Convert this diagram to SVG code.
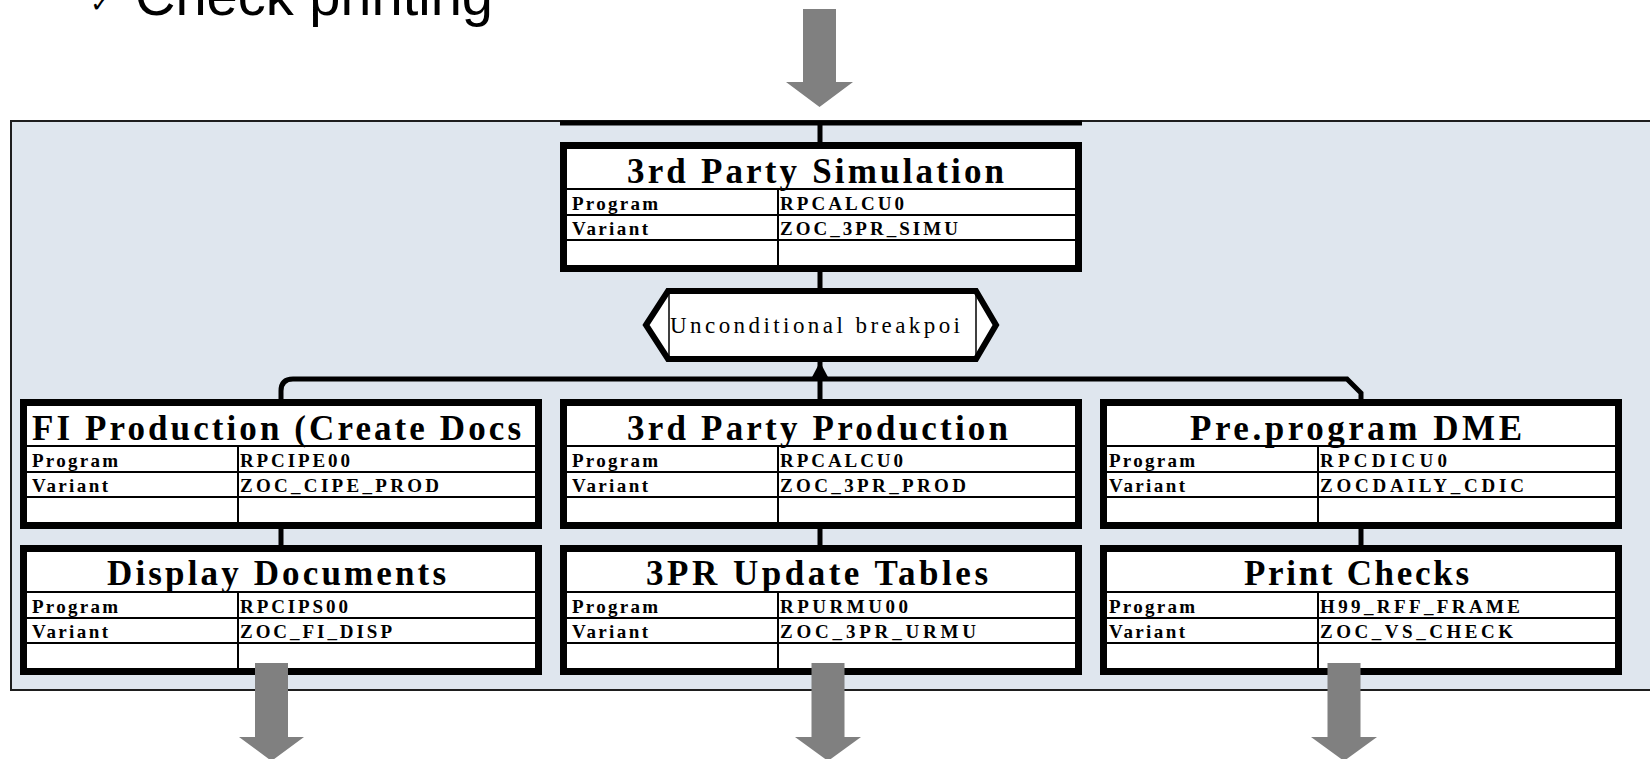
<svg xmlns="http://www.w3.org/2000/svg" width="1650" height="759" viewBox="0 0 1650 759">
<style>
.panel{fill:#dfe6ee;stroke:#1e1e1e;stroke-width:2}
.frame{fill:#fff;stroke:#000;stroke-width:7}
.ln{stroke:#000;stroke-width:2;fill:none}
.ttl{font-family:"Liberation Serif",serif;font-weight:bold;font-size:35px;fill:#000}
.cell{font-family:"Liberation Serif",serif;font-weight:bold;font-size:19px;fill:#000}
.hx{font-family:"Liberation Serif",serif;font-size:23px;fill:#000}
.conn{stroke:#000;stroke-width:5;fill:none}
.garrow{fill:#808080}
.head{font-family:"Liberation Sans",Arial,sans-serif;font-size:56px;fill:#000}
</style>
<defs>
<g id="grid">
<rect class="frame" x="3.5" y="3.5" width="515" height="123"/>
<line class="ln" x1="7" y1="47" x2="515" y2="47"/>
<line class="ln" x1="7" y1="73" x2="515" y2="73"/>
<line class="ln" x1="7" y1="98" x2="515" y2="98"/>
<line class="ln" x1="218" y1="47" x2="218" y2="123"/>
</g>
</defs>
<text class="head" x="90" y="12" style="font-family:'DejaVu Sans',sans-serif;font-size:26px">✓</text>
<text class="head" x="135" y="15">Check printing</text>
<rect class="panel" x="11" y="121" width="1660" height="569"/>
<g id="connectors">
<line class="conn" x1="560" y1="123" x2="1082" y2="123"/>
<line class="conn" x1="820" y1="123" x2="820" y2="142"/>
<line class="conn" x1="820" y1="272" x2="820" y2="291"/>
<line class="conn" x1="820" y1="360" x2="820" y2="399"/>
<polygon points="820,362 811,379 829,379" fill="#000"/>
<path class="conn" d="M281,399 L281,391 Q281,379 293,379 L1347,379 L1361,393 L1361,399"/>
<line class="conn" x1="281" y1="528" x2="281" y2="545"/>
<line class="conn" x1="820" y1="528" x2="820" y2="545"/>
<line class="conn" x1="1361" y1="528" x2="1361" y2="545"/>
</g>
<g id="n-sim" transform="translate(560,142)">
<use href="#grid"/>
<text class="ttl" x="67" y="41" textLength="377" lengthAdjust="spacing">3rd Party Simulation</text>
<text class="cell" x="12" y="68" textLength="86" lengthAdjust="spacing">Program</text>
<text class="cell" x="220" y="68" textLength="124" lengthAdjust="spacing">RPCALCU0</text>
<text class="cell" x="12" y="93" textLength="76" lengthAdjust="spacing">Variant</text>
<text class="cell" x="220" y="93" textLength="178" lengthAdjust="spacing">ZOC_3PR_SIMU</text>
</g>
<g id="n-break">
<path d="M646,325 L668,291 L976,291 L996,325 L976,359 L668,359 Z" fill="#fff" stroke="#000" stroke-width="6"/>
<line x1="669" y1="292" x2="669" y2="358" stroke="#000" stroke-width="1.5"/>
<line x1="976" y1="292" x2="976" y2="358" stroke="#000" stroke-width="1.5"/>
<text class="hx" x="670" y="333" textLength="290" lengthAdjust="spacing">Unconditional breakpoi</text>
</g>
<g id="n-fi" transform="translate(20,399)">
<use href="#grid"/>
<text class="ttl" x="12" y="41" textLength="489" lengthAdjust="spacing">FI Production (Create Docs</text>
<text class="cell" x="12" y="68" textLength="86" lengthAdjust="spacing">Program</text>
<text class="cell" x="220" y="68" textLength="110" lengthAdjust="spacing">RPCIPE00</text>
<text class="cell" x="12" y="93" textLength="76" lengthAdjust="spacing">Variant</text>
<text class="cell" x="220" y="93" textLength="199" lengthAdjust="spacing">ZOC_CIPE_PROD</text>
</g>
<g id="n-prod" transform="translate(560,399)">
<use href="#grid"/>
<text class="ttl" x="67" y="41" textLength="381" lengthAdjust="spacing">3rd Party Production</text>
<text class="cell" x="12" y="68" textLength="86" lengthAdjust="spacing">Program</text>
<text class="cell" x="220" y="68" textLength="123" lengthAdjust="spacing">RPCALCU0</text>
<text class="cell" x="12" y="93" textLength="76" lengthAdjust="spacing">Variant</text>
<text class="cell" x="220" y="93" textLength="186" lengthAdjust="spacing">ZOC_3PR_PROD</text>
</g>
<g id="n-dme" transform="translate(1100,399)">
<use href="#grid"/>
<text class="ttl" x="90" y="41" textLength="332" lengthAdjust="spacing">Pre.program DME</text>
<text class="cell" x="9" y="68" textLength="86" lengthAdjust="spacing">Program</text>
<text class="cell" x="220" y="68" textLength="127" lengthAdjust="spacing">RPCDICU0</text>
<text class="cell" x="9" y="93" textLength="76" lengthAdjust="spacing">Variant</text>
<text class="cell" x="220" y="93" textLength="204" lengthAdjust="spacing">ZOCDAILY_CDIC</text>
</g>
<g id="n-disp" transform="translate(20,545)">
<use href="#grid"/>
<text class="ttl" x="87" y="40" textLength="339" lengthAdjust="spacing">Display Documents</text>
<text class="cell" x="12" y="68" textLength="86" lengthAdjust="spacing">Program</text>
<text class="cell" x="220" y="68" textLength="108" lengthAdjust="spacing">RPCIPS00</text>
<text class="cell" x="12" y="93" textLength="76" lengthAdjust="spacing">Variant</text>
<text class="cell" x="220" y="93" textLength="152" lengthAdjust="spacing">ZOC_FI_DISP</text>
</g>
<g id="n-upd" transform="translate(560,545)">
<use href="#grid"/>
<text class="ttl" x="86" y="40" textLength="342" lengthAdjust="spacing">3PR Update Tables</text>
<text class="cell" x="12" y="68" textLength="86" lengthAdjust="spacing">Program</text>
<text class="cell" x="220" y="68" textLength="128" lengthAdjust="spacing">RPURMU00</text>
<text class="cell" x="12" y="93" textLength="76" lengthAdjust="spacing">Variant</text>
<text class="cell" x="220" y="93" textLength="196" lengthAdjust="spacing">ZOC_3PR_URMU</text>
</g>
<g id="n-chk" transform="translate(1100,545)">
<use href="#grid"/>
<text class="ttl" x="144" y="40" textLength="225" lengthAdjust="spacing">Print Checks</text>
<text class="cell" x="9" y="68" textLength="86" lengthAdjust="spacing">Program</text>
<text class="cell" x="220" y="68" textLength="200" lengthAdjust="spacing">H99_RFF_FRAME</text>
<text class="cell" x="9" y="93" textLength="76" lengthAdjust="spacing">Variant</text>
<text class="cell" x="220" y="93" textLength="193" lengthAdjust="spacing">ZOC_VS_CHECK</text>
</g>
<g id="flow-arrows">
<polygon class="garrow" points="803,9 836,9 836,82 853,82 819.5,107 786,82 803,82"/>
<polygon class="garrow" points="255,663 288,663 288,737 304,737 271.5,761 239,737 255,737"/>
<polygon class="garrow" points="811.5,663 844.5,663 844.5,737 861,737 828,761 795,737 811.5,737"/>
<polygon class="garrow" points="1327.5,663 1360.5,663 1360.5,737 1377,737 1344,761 1311,737 1327.5,737"/>
</g>
</svg>
